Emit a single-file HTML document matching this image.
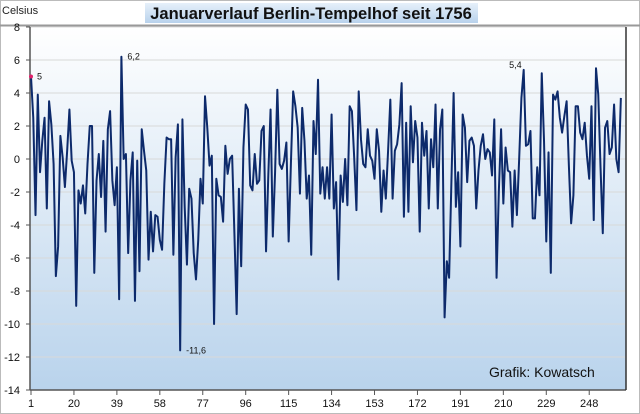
<!DOCTYPE html>
<html><head><meta charset="utf-8"><style>
body{margin:0;background:#fff;}
svg{display:block;font-family:"Liberation Sans",sans-serif;}
</style></head><body>
<svg id="chart" width="640" height="414">
<defs><linearGradient id="bg" x1="0" y1="0" x2="0" y2="1"><stop offset="0" stop-color="#ffffff"/><stop offset="1" stop-color="#b9d3ec"/></linearGradient>
<linearGradient id="tbg" x1="0" y1="0" x2="0" y2="1"><stop offset="0" stop-color="#e6f0fa"/><stop offset="1" stop-color="#b8d2ec"/></linearGradient></defs>
<rect x="0.5" y="0.5" width="639" height="413" fill="#fff" stroke="#bbb"/>
<rect x="30" y="27" width="596" height="363" fill="url(#bg)"/>
<line x1="0" y1="25.5" x2="640" y2="25.5" stroke="#999" stroke-width="2"/>
<g id="grid"></g><g id="yax"></g><g id="xax"></g><g id="series"></g>
<line x1="626" y1="27" x2="626" y2="390" stroke="#333" stroke-width="1.5"/>
<rect x="145" y="3" width="333" height="20" fill="url(#tbg)"/>
<text x="311" y="19" text-anchor="middle" font-size="16.5" font-weight="bold" fill="#111">Januarverlauf Berlin-Tempelhof seit 1756</text>
<text x="2" y="14" font-size="11" fill="#222">Celsius</text>
<text x="489" y="377" font-size="14" fill="#111">Grafik: Kowatsch</text>
</svg>
<script>
const values=[5.0,2.5,-3.4,3.9,-0.8,1.1,2.5,-3.0,3.5,2.1,-0.3,-7.1,-5.3,1.4,0.1,-1.7,0.5,3.0,-0.1,-0.8,-8.9,-1.9,-2.7,-1.6,-3.3,-0.3,2.0,2.0,-6.9,-1.3,0.3,-2.3,1.1,-4.4,1.8,2.9,-1.3,-2.8,-0.5,-8.5,6.2,0,0.3,-5.7,-1.3,
0.4,-8.6,-0.1,-6.8,1.8,0.5,-0.7,-6.1,-3.2,-5.6,-3.4,-3.5,-4.9,-5.5,-1.5,1.3,1.2,1.2,-5.8,0.1,2.1,-11.6,2.4,-2.9,-6.4,-1.8,-2.4,-5.7,-7.3,-4.9,-1.2,-2.7,3.8,1.9,-0.4,0.2,-10,-1.2,-2.2,-2.3,-3.8,0.8,-0.9,
0,0.2,-4.5,-9.4,-1.8,-6.5,0.7,3.3,3.0,-1.6,-1.9,0.3,-1.5,-1.3,1.7,2.0,-5.6,-1.0,3.0,-4.7,-0.8,4.2,-0.3,-0.6,-0.1,1.0,-5.0,-0.3,4.1,3.2,1.9,-2.1,3.1,1.1,-2.4,-1.0,-5.8,2.3,0.3,4.8,-2.1,-0.5,-2.4,-0.5,
-2.4,2.7,-3.0,-1.4,-7.3,-1.0,-2.6,0,-2.8,3.2,2.9,0.1,-3.1,4.1,1.2,-0.3,-0.5,1.8,0.2,-0.1,-1.2,1.8,0.5,-3.2,-0.7,-2.4,0.5,3.6,-2.4,0.5,0.9,2.1,4.6,-3.5,2.2,-3.2,3.2,-0.2,2.3,1.3,-4.4,2.2,0.2,1.7,-3.0,
1.2,-0.5,3.3,-3.0,1.8,3.0,-9.6,-6.2,-7.2,-1.5,4.0,-2.9,-0.8,-5.3,2.7,1.9,-1.4,1.1,1.3,0.8,-3.0,-0.7,0.8,1.5,0,0.6,0.4,-1.0,2.4,-7.2,-2.0,1.8,-2.7,0.7,-0.7,-0.8,-4.1,-0.7,-3.4,0,3.7,5.4,0.8,0.9,
1.7,-3.6,-3.6,-0.5,-2.2,5.2,1.1,-5.0,0.4,-6.9,3.9,3.6,4.1,2.5,1.6,2.6,3.5,-0.4,-3.9,-2.2,3.2,3.2,1.6,1.2,2.2,0.2,-1.2,3.2,-3.7,5.5,3.9,-0.5,-4.5,1.9,2.3,0.3,0.7,3.3,0,-0.8,3.7];
const yTicks=[8,6,4,2,0,-2,-4,-6,-8,-10,-12,-14];
const xTicks=[1,20,39,58,77,96,115,134,153,172,191,210,229,248];
const annotations=[[1,"5"],[41,"6,2"],[67,"-11,6"],[219,"5,4"]];
const NS="http://www.w3.org/2000/svg";
const x=i=>31+(i-1)*2.26;
const y=v=>27+(8-v)*16.5;
function mk(t,a,p){const e=document.createElementNS(NS,t);for(const k in a)e.setAttribute(k,a[k]);p.appendChild(e);return e;}
const grid=document.getElementById('grid'),yax=document.getElementById('yax'),xax=document.getElementById('xax'),ser=document.getElementById('series');
yTicks.forEach(v=>{
 const g=mk('line',{x1:30,x2:626,y1:y(v),y2:y(v),stroke:'#d8d8d8','stroke-width':1},grid);
 
 
 const t=mk('text',{x:20,y:y(v)+4,'text-anchor':'end','font-size':11,fill:'#111'},yax);
 t.textContent=v;
 
 
 mk('line',{x1:26,x2:30,y1:y(v),y2:y(v),stroke:'#555'},yax);
});
const ax=mk('line',{x1:30,x2:30,y1:27,y2:390,stroke:'#555','stroke-width':1.5},yax);


const bx=mk('line',{x1:30,x2:626,y1:390,y2:390,stroke:'#555','stroke-width':1.5},xax);


xTicks.forEach(v=>{
 mk('line',{x1:x(v),x2:x(v),y1:390,y2:395,stroke:'#555'},xax);
 const t=mk('text',{x:x(v),y:407,'text-anchor':'middle','font-size':11,fill:'#111'},xax);
 t.textContent=v;
 
 
});
const pl=mk('polyline',{points:values.map((v,i)=>x(i+1)+','+y(v)).join(' '),fill:'none',stroke:'#0d2a6b','stroke-width':2,'stroke-linejoin':'round'},ser);


const dot=mk('circle',{cx:x(1),cy:y(values[0]),r:2,fill:'#e0206a'},ser);


annotations.forEach(([i,s])=>{
 const v=values[i-1];
 let tx=x(i)+6,ty=y(v)+3,anc='start';
 if(i>200){tx=x(i)-2;ty=y(v)-2;anc='end';}
 const t=mk('text',{x:tx,y:ty,'text-anchor':anc,'font-size':9,fill:'#111'},ser);
 t.textContent=s;
 
 
});
</script>
</body></html>
